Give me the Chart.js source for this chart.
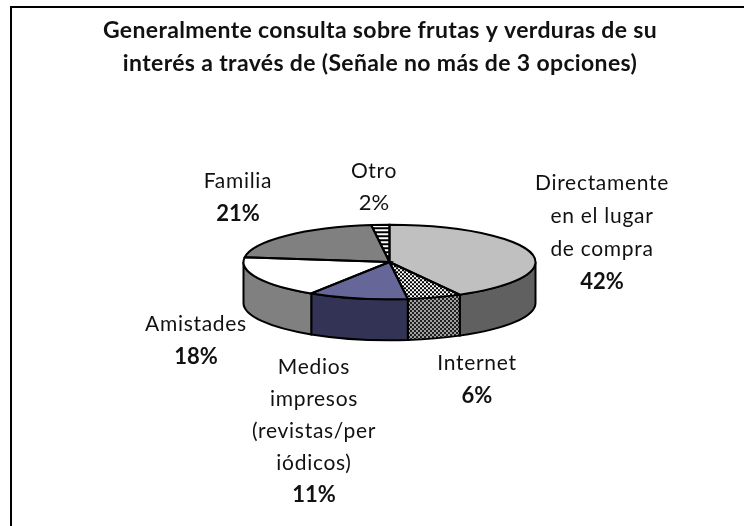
<!DOCTYPE html>
<html>
<head>
<meta charset="utf-8">
<style>
  html, body { margin: 0; padding: 0; background: #fff; }
  #wrap { position: relative; width: 744px; height: 526px; }
</style>
<script src="https://cdn.jsdelivr.net/npm/chart.js@4/dist/chart.umd.min.js"></script>
</head>
<body>
<div id="wrap"><canvas id="chart_pie"></canvas></div>
<script>
// values
var categories = ["Directamente en el lugar de compra", "Internet", "Medios impresos (revistas/periódicos)", "Amistades", "Familia", "Otro"];
var shares = [42, 6, 11, 18, 21, 2];
var titleLines = ["Generalmente consulta sobre frutas y verduras de su", "interés a través de (Señale no más de 3 opciones)"];

// pie geometry of the squashed disc
var centerX = 389.5;
var centerY = 262;
var radiusX = 146;
var squash = 0.255;
var depth = 41;

// label blocks: anchor centre x, y of every line, wrapped text lines, which line is bold
var labelBlocks = [
    {x: 602, ys: [183, 216, 249], lines: ["Directamente", "en el lugar", "de compra"], value: 0, valueY: 282, bold: true},
    {x: 477, ys: [363], lines: ["Internet"], value: 1, valueY: 396, bold: true},
    {x: 314, ys: [367, 399, 431, 463], lines: ["Medios", "impresos", "(revistas/per", "iódicos)"], value: 2, valueY: 495, bold: true},
    {x: 196, ys: [324], lines: ["Amistades"], value: 3, valueY: 357, bold: true},
    {x: 238, ys: [181], lines: ["Familia"], value: 4, valueY: 214, bold: true},
    {x: 374, ys: [171], lines: ["Otro"], value: 5, valueY: 203, bold: false}
];

//small tile patterns for the hatched slices
function makeChecker(light, dark, flat) {
    var c = document.createElement("canvas");
    c.width = 4; c.height = 4;
    var g = c.getContext("2d");
    g.fillStyle = light; g.fillRect(0, 0, 4, 4);
    g.fillStyle = dark; g.fillRect(0, 0, 2, 2); g.fillRect(2, 2, 2, 2);
    var p = g.createPattern(c, "repeat");
    // top slices are painted under a squashed ctx, undo that for the tile
    if (flat) p.setTransform(new DOMMatrix().scale(1, 1 / squash));
    return p;
}
function makeStripes() {
    var c = document.createElement("canvas");
    c.width = 4; c.height = 4;
    var g = c.getContext("2d");
    g.fillStyle = "#fff"; g.fillRect(0, 0, 4, 4);
    g.fillStyle = "#000"; g.fillRect(0, 0, 4, 2);
    var p = g.createPattern(c, "repeat");
    p.setTransform(new DOMMatrix().scale(1, 1 / squash));
    return p;
}

var topColors = ["#c0c0c0", makeChecker("#fff", "#000", true), "#666699", "#ffffff", "#808080", makeStripes()];
var sideColors = ["#606060", makeChecker("#a0a0a0", "#202020", false), "#333355", "#808080", "#404040", "#808080"];

// draws the rim of the disc below the slices
var rimPlugin = {
    id: "rim",
    beforeDatasetsDraw: function(chart) {
        var ctx = chart.ctx;
        var arcs = chart.getDatasetMeta(0).data;
        arcs.forEach(function(arc, i) {
            var a0 = Math.max(arc.startAngle, 0);
            var a1 = Math.min(arc.endAngle, Math.PI);
            if (a0 >= a1) return;
            var rx = arc.outerRadius;
            var ry = rx * squash;
            ctx.save();
            ctx.beginPath();
            ctx.ellipse(arc.x, arc.y, rx, ry, 0, a0, a1);
            ctx.ellipse(arc.x, arc.y + depth, rx, ry, 0, a1, a0, true);
            ctx.closePath();
            ctx.fillStyle = sideColors[i];
            ctx.fill();
            ctx.lineWidth = 2;
            ctx.strokeStyle = "#000";
            ctx.stroke();
            ctx.restore();
        });
        // slices are round in the library, flatten them for the draw
        ctx.save();
        ctx.translate(centerX, centerY);
        ctx.scale(1, squash);
        ctx.translate(-centerX, -centerY);
    },
    afterDatasetsDraw: function(chart) {
        var ctx = chart.ctx;
        var arcs = chart.getDatasetMeta(0).data;
        ctx.restore();
        // outlines stroked with an even line width
        arcs.forEach(function(arc) {
            var ry = arc.outerRadius * squash;
            ctx.save();
            ctx.beginPath();
            ctx.moveTo(arc.x, arc.y);
            ctx.ellipse(arc.x, arc.y, arc.outerRadius, ry, 0, arc.startAngle, arc.endAngle);
            ctx.closePath();
            ctx.lineWidth = 2;
            ctx.strokeStyle = "#000";
            ctx.stroke();
            ctx.restore();
        });
    }
};

// frame, title and the labels around the pie
var textPlugin = {
    id: "texts",
    afterDraw: function(chart) {
        var ctx = chart.ctx;
        ctx.save();
        // the frame only shows on the left and the top
        ctx.strokeStyle = "#000";
        ctx.lineWidth = 2;
        ctx.beginPath();
        ctx.moveTo(11, 526);
        ctx.lineTo(11, 7);
        ctx.lineTo(744, 7);
        ctx.stroke();

        ctx.fillStyle = "#111";
        ctx.textAlign = "center";
        ctx.textBaseline = "middle";

        ctx.font = "bold 23px Lato";
        ctx.letterSpacing = "0.35px";
        ctx.fillText(titleLines[0], 380, 31);
        ctx.fillText(titleLines[1], 380, 64);

        labelBlocks.forEach(function(b) {
            ctx.font = "21px Lato";
            ctx.letterSpacing = "0.7px";
            b.lines.forEach(function(line, k) {
                ctx.fillText(line, b.x, b.ys[k]);
            });
            ctx.font = (b.bold ? "bold " : "") + "22px Lato";
            ctx.letterSpacing = "0px";
            ctx.fillText(shares[b.value] + "%", b.x, b.valueY);
        });
        ctx.restore();
    }
};

var configPie = {
    type: "pie",
    data: {
        labels: categories,
        datasets: [{
            data: shares,
            backgroundColor: topColors,
            borderWidth: 0
        }]
    },
    options: {
        responsive: false,
        animation: false,
        layout: {
            padding: {
                left: centerX - radiusX,
                right: 744 - centerX - radiusX,
                top: centerY - radiusX,
                bottom: 526 - centerY - radiusX
            }
        },
        plugins: {
            legend: {display: false},
            tooltip: {enabled: false}
        }
    },
    plugins: [rimPlugin, textPlugin]
};

var canvasPie = document.getElementById("chart_pie");
canvasPie.width = 744;
canvasPie.height = 526;
var chartPie = new Chart(canvasPie.getContext("2d"), configPie);
</script>
</body>
</html>
